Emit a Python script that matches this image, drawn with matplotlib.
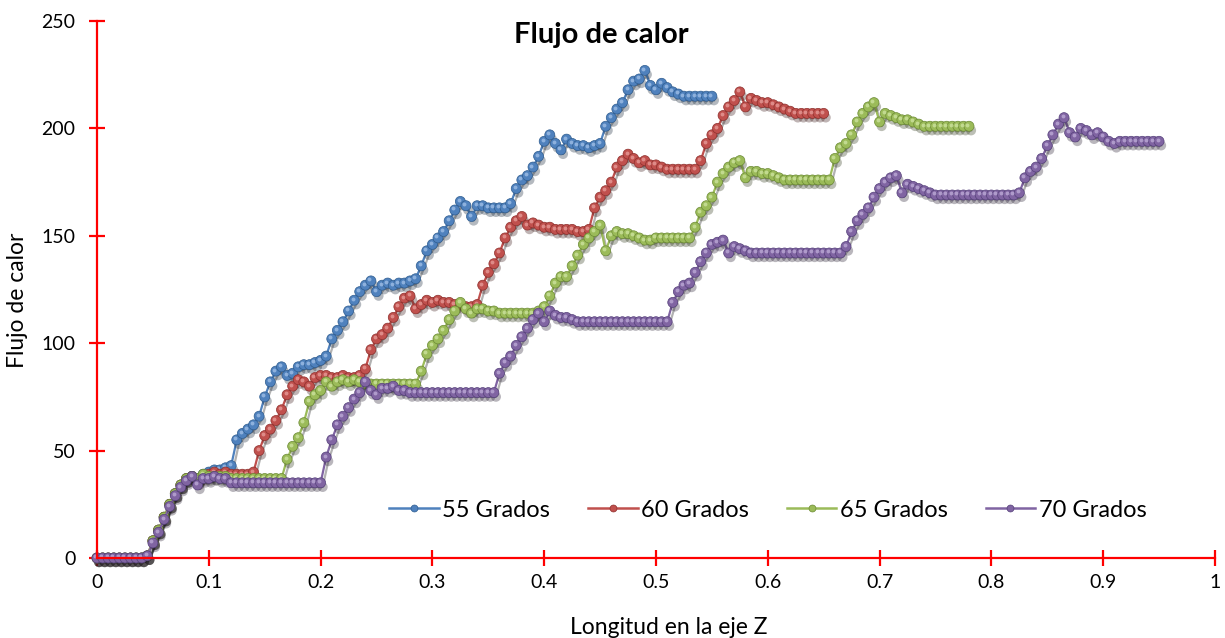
import numpy as np
import matplotlib
matplotlib.use("Agg")
import matplotlib.pyplot as plt
import matplotlib.patheffects as pe
from matplotlib.lines import Line2D
from matplotlib.transforms import ScaledTranslation

plt.rcParams["font.family"] = ["Lato", "DejaVu Sans"]

# sampling step along Z (values read every 0.005)
step = 0.005

labels = ["55 Grados", "60 Grados", "65 Grados", "70 Grados"]

flujo_55 = [
    0, 0, 0, 0, 0, 0, 0, 0, 0, 1,
    8, 13, 19, 25, 30, 34, 37, 38, 37, 39,
    40, 41, 41, 42, 43, 55, 58, 60, 62, 66,
    75, 82, 87, 89, 85, 86, 89, 90, 90, 91,
    92, 94, 102, 106, 110, 115, 120, 124, 127, 129,
    124, 127, 128, 127, 128, 128, 129, 130, 136, 143,
    146, 149, 152, 157, 162, 166, 164, 159, 164, 164,
    163, 163, 163, 163, 165, 172, 176, 178, 182, 187,
    194, 197, 193, 190, 195, 193, 192, 192, 191, 192,
    193, 201, 205, 209, 212, 218, 222, 223, 227, 220,
    218, 221, 219, 217, 216, 215, 215, 215, 215, 215,
    215,
]

flujo_60 = [
    0, 0, 0, 0, 0, 0, 0, 0, 0, 1,
    8, 13, 19, 25, 30, 34, 37, 38, 36, 38,
    39, 40, 39, 40, 39, 39, 39, 39, 40, 50,
    57, 60, 64, 69, 76, 80, 83, 82, 80, 84,
    85, 85, 84, 84, 85, 84, 84, 85, 88, 97,
    102, 104, 107, 112, 117, 121, 122, 116, 118, 120,
    119, 120, 119, 119, 118, 118, 117, 117, 118, 127,
    133, 137, 142, 149, 154, 157, 159, 155, 156, 155,
    154, 154, 153, 153, 153, 153, 152, 152, 153, 163,
    168, 171, 175, 182, 185, 188, 186, 184, 185, 183,
    183, 182, 181, 181, 181, 181, 181, 181, 185, 193,
    197, 200, 206, 210, 213, 217, 210, 214, 213, 212,
    212, 211, 210, 209, 208, 207, 207, 207, 207, 207,
    207,
]

flujo_65 = [
    0, 0, 0, 0, 0, 0, 0, 0, 0, 1,
    8, 13, 19, 25, 30, 34, 37, 38, 37, 39,
    38, 38, 38, 38, 37, 37, 37, 37, 37, 37,
    37, 37, 37, 37, 46, 52, 56, 63, 73, 76,
    78, 82, 80, 82, 83, 82, 83, 82, 81, 81,
    81, 81, 81, 81, 81, 81, 81, 81, 87, 95,
    99, 102, 106, 111, 115, 119, 116, 114, 116, 116,
    115, 115, 114, 114, 114, 114, 114, 114, 114, 115,
    117, 122, 128, 131, 131, 136, 141, 146, 149, 152,
    155, 143, 150, 152, 151, 151, 150, 149, 148, 148,
    149, 149, 149, 149, 149, 149, 149, 154, 161, 164,
    168, 175, 179, 182, 184, 185, 177, 180, 180, 179,
    179, 178, 177, 176, 176, 176, 176, 176, 176, 176,
    176, 176, 186, 191, 193, 197, 203, 207, 210, 212,
    203, 207, 206, 205, 204, 204, 203, 202, 201, 201,
    201, 201, 201, 201, 201, 201, 201,
]

flujo_70 = [
    0, 0, 0, 0, 0, 0, 0, 0, 0, 1,
    7, 12, 18, 24, 29, 33, 36, 38, 34, 37,
    37, 38, 37, 37, 35, 35, 35, 35, 35, 35,
    35, 35, 35, 35, 35, 35, 35, 35, 35, 35,
    35, 47, 55, 62, 66, 70, 74, 77, 82, 78,
    76, 79, 79, 80, 78, 78, 77, 77, 77, 77,
    77, 77, 77, 77, 77, 77, 77, 77, 77, 77,
    77, 77, 86, 91, 94, 99, 103, 107, 111, 114,
    110, 115, 113, 112, 112, 111, 110, 110, 110, 110,
    110, 110, 110, 110, 110, 110, 110, 110, 110, 110,
    110, 110, 110, 119, 124, 127, 128, 133, 138, 142,
    146, 147, 148, 142, 145, 144, 143, 142, 142, 142,
    142, 142, 142, 142, 142, 142, 142, 142, 142, 142,
    142, 142, 142, 142, 145, 152, 157, 160, 163, 168,
    172, 175, 177, 178, 170, 174, 173, 172, 171, 170,
    169, 169, 169, 169, 169, 169, 169, 169, 169, 169,
    169, 169, 169, 169, 169, 170, 177, 180, 182, 186,
    192, 197, 202, 205, 198, 196, 200, 199, 197, 198,
    196, 194, 193, 194, 194, 194, 194, 194, 194, 194,
    194,
]

series = [flujo_55, flujo_60, flujo_65, flujo_70]
colors = ["#4F81BD", "#C0504D", "#9BBB59", "#8064A2"]
dark = ["#2E5C8F", "#8E2F2C", "#6B8A34", "#55407A"]
light = ["#A9C6EC", "#EBA5A2", "#D3E8A8", "#C4B3DD"]

x_ticks = [0, 0.1, 0.2, 0.3, 0.4, 0.5, 0.6, 0.7, 0.8, 0.9, 1]
x_tick_labels = ["0", "0.1", "0.2", "0.3", "0.4", "0.5", "0.6", "0.7", "0.8", "0.9", "1"]
y_ticks = [0, 50, 100, 150, 200, 250]

fig = plt.figure(figsize=(12.25, 6.38), dpi=100)
ax = fig.add_axes([0.0792, 0.1254, 0.9126, 0.8417])

shift = ScaledTranslation(-1.1 / 72, 1.1 / 72, fig.dpi_scale_trans)
shadow_line = [pe.SimpleLineShadow(offset=(1.5, -3), alpha=0.3), pe.Normal()]
shadow_mark = [pe.SimplePatchShadow(offset=(1.5, -3), alpha=0.32), pe.Normal()]

for i, y in enumerate(series):
    x = np.arange(len(y)) * step
    ax.plot(x, y, color=colors[i], lw=1.6, clip_on=False, path_effects=shadow_line)
    ax.plot(x, y, ls="none", marker="o", ms=7.2, mfc=colors[i], mec=dark[i],
            mew=0.5, clip_on=False, path_effects=shadow_mark)
    ax.plot(x, y, ls="none", marker="o", ms=2.8, mfc=light[i], mec="none",
            alpha=0.7, clip_on=False, transform=ax.transData + shift)

ax.set_xlim(0, 1)
ax.set_ylim(0, 250)
ax.set_xticks(x_ticks)
ax.set_xticklabels(x_tick_labels)
ax.set_yticks(y_ticks)

for side in ["top", "right"]:
    ax.spines[side].set_visible(False)
for side in ["left", "bottom"]:
    ax.spines[side].set_color("red")
    ax.spines[side].set_linewidth(1.6)
ax.tick_params(direction="inout", length=11, width=1.6, color="red",
               labelsize=14, labelcolor="black")
ax.tick_params(axis="y", pad=10)
ax.tick_params(axis="x", pad=6)

handles = [Line2D([0], [0], color=colors[i], lw=1.8, marker="o", ms=5,
                  mfc=colors[i], mec=dark[i], mew=0.5) for i in range(4)]
ax.legend(handles, labels, loc="center", bbox_to_anchor=(0.60, 0.089), ncol=4,
          frameon=False, fontsize=17, handlelength=2.1, handletextpad=0.15,
          columnspacing=1.6)

fig.text(601 / 1225, 1 - 35 / 638, "Flujo de calor", ha="center", va="center",
         fontsize=21, fontweight="bold")
fig.text(18 / 1225, 1 - 300 / 638, "Flujo de calor", ha="center", va="center",
         rotation=90, fontsize=16.5)
fig.text(669 / 1225, 1 - 628 / 638, "Longitud en la eje Z", ha="center",
         va="center", fontsize=16.5)

fig.savefig("out.png", dpi=100)
